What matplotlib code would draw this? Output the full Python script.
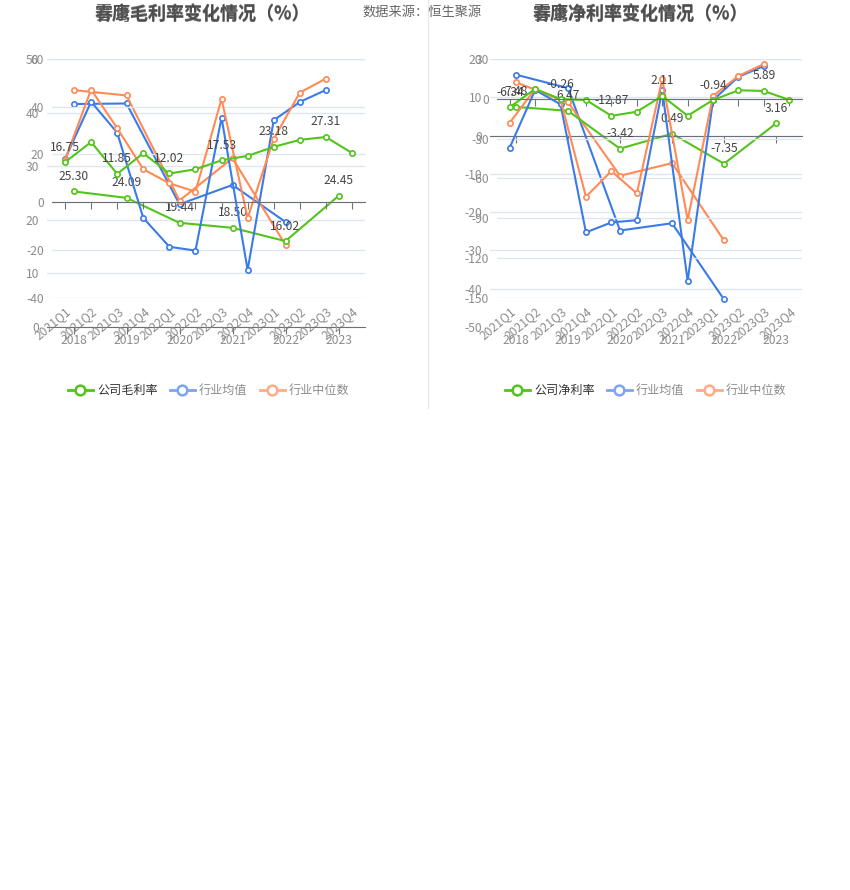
import numpy as np
import matplotlib
matplotlib.use('Agg')
import matplotlib.pyplot as plt
from matplotlib.lines import Line2D

plt.rcParams['font.family'] = ['Noto Sans CJK SC', 'DejaVu Sans']
plt.rcParams['axes.unicode_minus'] = False

# data
years = ['2018', '2019', '2020', '2021', '2022', '2023']
quarters = ['2021Q1', '2021Q2', '2021Q3', '2021Q4', '2022Q1', '2022Q2',
            '2022Q3', '2022Q4', '2023Q1', '2023Q2', '2023Q3', '2023Q4']

gross_year_company = [25.30, 24.09, 19.44, 18.50, 16.02, 24.45]
gross_year_avg = [41.6, 41.7, 22.9, 26.5, 19.6, np.nan]
gross_year_median = [44.2, 43.2, 23.6, 31.5, 15.3, np.nan]
gross_q_company = [16.75, 25.2, 11.85, 20.5, 12.02, 13.8, 17.53, 19.4, 23.18, 26.1, 27.31, 20.6]
gross_q_avg = [18.1, 42.1, 29.1, -6.6, -18.7, -20.3, 35.4, -28.4, 34.3, 42.0, 47.0, np.nan]
gross_q_median = [17.7, 47.2, 31.0, 13.8, 7.9, 4.4, 43.3, -6.7, 26.5, 45.9, 51.8, np.nan]

net_year_company = [7.48, 6.47, -3.42, 0.49, -7.35, 3.16]
net_year_avg = [15.9, 12.4, -24.8, -22.9, -42.8, np.nan]
net_year_median = [13.9, 8.7, -10.5, -7.2, -27.4, np.nan]
net_q_company = [-6.34, 7.4, -0.26, -0.9, -12.87, -9.8, 2.11, -12.8, -0.94, 6.4, 5.89, -0.9]
net_q_avg = [-36.9, 6.6, -4.2, -100.8, -93.3, -91.6, 6.6, -137.4, -1.0, 16.6, 24.7, np.nan]
net_q_median = [-18.1, 7.4, -0.9, -73.9, -54.5, -71.4, 14.7, -91.5, 2.1, 17.2, 26.2, np.nan]

GREEN = '#52c41a'
BLUE = '#3b7be8'
ORANGE = '#ff8a55'
GRID = '#e0e6f1'
AXIS = '#6e7079'
LABEL = '#8c8c8c'

W, H = 850, 890
fig = plt.figure(figsize=(W / 100, H / 100), dpi=100)


def rect(x0, y0, x1, y1):
    return [x0 / W, 1 - y1 / H, (x1 - x0) / W, (y1 - y0) / H]


def make_axes(box, cats, ylim, yticks, rotate):
    ax = fig.add_axes(rect(*box))
    ax.set_facecolor('none')
    n = len(cats)
    ax.set_xlim(-0.5, n - 0.5)
    ax.set_ylim(*ylim)
    ax.set_yticks(yticks)
    ax.yaxis.grid(True, color=GRID, lw=1)
    ax.set_axisbelow(True)
    for s in ['top', 'right', 'left']:
        ax.spines[s].set_visible(False)
    ax.spines['bottom'].set_position(('data', 0))
    ax.spines['bottom'].set_color(AXIS)
    ax.set_xticks(range(n))
    ax.tick_params(axis='x', length=5, color=AXIS, labelbottom=False)
    ax.tick_params(axis='y', length=0, pad=5.8, labelsize=8.7, labelcolor=LABEL)
    sec = ax.secondary_xaxis('bottom')
    sec.spines['bottom'].set_visible(False)
    sec.set_xticks(range(n))
    if rotate:
        sec.set_xticklabels(cats, rotation=40, ha='right', rotation_mode='anchor')
    else:
        sec.set_xticklabels(cats)
    sec.tick_params(length=0, pad=5, labelsize=8.7, labelcolor=LABEL)
    return ax


def draw(ax, vals, color, labels=None):
    x = np.arange(len(vals))
    ax.plot(x, vals, color=color, lw=1.5, marker='o', ms=3.8,
            mfc='white', mec=color, mew=1.2, clip_on=False)
    if labels is not None:
        for i in labels:
            ax.annotate(f'{vals[i]:.2f}', (x[i], vals[i]), xytext=(0, 15),
                        textcoords='offset pixels', ha='center', va='center',
                        fontsize=8.7, color='#444444')


# left panel: gross margin
ax_gy = make_axes((47, 59, 365, 327), years, (0, 50), [0, 10, 20, 30, 40, 50], False)
draw(ax_gy, gross_year_avg, BLUE)
draw(ax_gy, gross_year_median, ORANGE)
draw(ax_gy, gross_year_company, GREEN, range(6))

ax_gq = make_axes((52, 59, 365, 297.6), quarters, (-40, 60), [-40, -20, 0, 20, 40, 60], True)
draw(ax_gq, gross_q_avg, BLUE)
draw(ax_gq, gross_q_median, ORANGE)
draw(ax_gq, gross_q_company, GREEN, range(0, 12, 2))

# right panel: net margin
ax_ny = make_axes((490, 59, 802, 327), years, (-50, 20), list(range(-50, 21, 10)), False)
draw(ax_ny, net_year_avg, BLUE)
draw(ax_ny, net_year_median, ORANGE)
draw(ax_ny, net_year_company, GREEN, range(6))

ax_nq = make_axes((497, 59, 802, 297.6), quarters, (-150, 30), list(range(-150, 31, 30)), True)
draw(ax_nq, net_q_avg, BLUE)
draw(ax_nq, net_q_median, ORANGE)
draw(ax_nq, net_q_company, GREEN, range(0, 12, 2))

# titles, source, legends in pixel space
ov = fig.add_axes([0, 0, 1, 1], zorder=-1)
ov.set_xlim(0, W)
ov.set_ylim(H, 0)
ov.axis('off')

for name in ['雾康', '春鹰']:
    ov.text(202, 14, name + '毛利率变化情况（%）', ha='center', va='center',
            fontsize=13, fontweight='bold', color='#464646', alpha=0.8)
    ov.text(640, 14, name + '净利率变化情况（%）', ha='center', va='center',
            fontsize=13, fontweight='bold', color='#464646', alpha=0.8)
ov.text(362, 12, '数据来源：恒生聚源', ha='left', va='center', fontsize=9.5, color='#666666')
ov.plot([428, 428], [0, 408], color='#e8e8e8', lw=1)


def legend(x0, first):
    items = [(first, GREEN, '#333333'), ('行业均值', '#7aa5f0', '#8c8c8c'),
             ('行业中位数', '#ffab85', '#8c8c8c')]
    widths = [60, 48, 60]
    x = x0
    for (txt, c, tc), w in zip(items, widths):
        ov.add_line(Line2D([x, x + 25], [390, 390], color=c, lw=2))
        ov.plot(x + 12.5, 390, 'o', ms=7, mfc='white', mec=c, mew=1.8)
        ov.text(x + 29, 390, txt, ha='left', va='center', fontsize=8.7, color=tc)
        x += 29 + w + 13


legend(68, '公司毛利率')
legend(505, '公司净利率')

fig.savefig('out.png', dpi=100)
